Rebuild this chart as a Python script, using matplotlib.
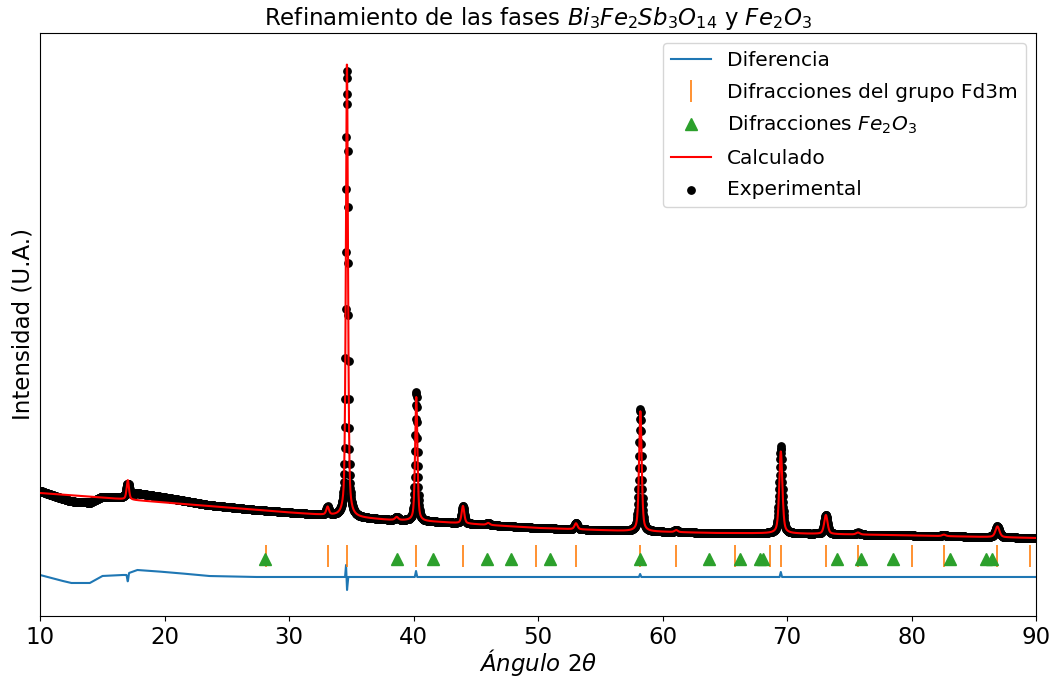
import numpy as np
import matplotlib.pyplot as plt

# fondo del patron calculado (2theta, intensidad)
fondo_x = [10, 17, 30, 38, 42, 46, 50, 57, 64, 70, 78, 86, 90]
fondo_y = [840, 775, 645, 570, 550, 520, 490, 460, 440, 435, 420, 400, 390]

# picos del calculado: posicion, altura sobre el fondo, anchura (FWHM)
picos_pos = [17.05, 33.1, 34.65, 38.65, 40.22, 43.97, 46.0, 53.05, 58.22, 61.1,
             69.5, 73.12, 75.7, 82.6, 86.9]
picos_alt = [195, 80, 4560, 30, 1240, 175, 20, 60, 1200, 20,
             820, 190, 20, 15, 108]
picos_fwhm = [0.22, 0.25, 0.2, 0.3, 0.22, 0.25, 0.3, 0.28, 0.25, 0.3,
              0.3, 0.32, 0.35, 0.35, 0.38]

# diferencia experimental - calculado
dif_x = [10, 11.5, 12.5, 14, 15, 16.5, 16.95, 17.05, 17.15, 17.8, 19, 21, 23.5, 27,
         34.5, 34.58, 34.66, 34.76, 40.1, 40.2, 40.3, 58.1, 58.2, 58.3,
         69.4, 69.5, 69.6, 90]
dif_y = [20, -30, -60, -60, 10, 20, 20, -50, 40, 70, 60, 40, 10, 0,
         0, 120, -130, 0, 0, 60, 0, 0, 30, 0,
         0, 50, 0, 0]

# posiciones de las reflexiones
fd3m = [28.15, 33.1, 34.64, 40.2, 44.0, 49.8, 53.05, 58.2, 61.1, 65.85, 68.6,
        69.5, 73.1, 75.7, 80.05, 82.6, 86.9, 89.5]
fe2o3 = [28.1, 38.7, 41.6, 45.9, 47.8, 50.95, 58.15, 63.7, 66.25, 67.8, 68.1,
         74.0, 75.95, 78.5, 83.05, 86.0, 86.5]

paso = 0.02
x = np.arange(10, 90 + paso / 2, paso)

# perfil pseudo-Voigt
calc = np.interp(x, fondo_x, fondo_y)
for p, h, w in zip(picos_pos, picos_alt, picos_fwhm):
    g = np.exp(-4 * np.log(2) * ((x - p) / w) ** 2)
    l = 1 / (1 + 4 * ((x - p) / w) ** 2)
    calc = calc + h * (0.5 * g + 0.5 * l)

dif = np.interp(x, dif_x, dif_y)
exper = calc + dif

fig = plt.figure(figsize=(10.56, 6.82), dpi=100)
ax = fig.add_axes([0.0379, 0.0968, 0.9432, 0.8548])

l_dif, = ax.plot(x, dif, color='tab:blue', lw=1.5, zorder=2)
l_fd, = ax.plot(fd3m, [205] * len(fd3m), '|', color='tab:orange', ms=16.5,
                mew=1.2, zorder=2)
l_fe, = ax.plot(fe2o3, [180] * len(fe2o3), '^', color='tab:green', ms=9,
                zorder=3)
sc = ax.scatter(x, exper, s=28, c='k', zorder=3)
l_calc, = ax.plot(x, calc, color='red', lw=1.5, zorder=4)

ax.set_xlim(10, 90)
ax.set_ylim(-390, 5440)
ax.set_yticks([])
ax.set_xticks(range(10, 91, 10))
ax.tick_params(axis='x', labelsize=16.5)

ax.set_title(r'Refinamiento de las fases $Bi_3Fe_2Sb_3O_{14}$ y $Fe_2O_3$',
             fontsize=16.5)
ax.set_xlabel(r'$Ángulo\ 2\theta$', fontsize=16.5, labelpad=-1)
ax.set_ylabel('Intensidad (U.A.)', fontsize=16.5)

ax.legend([l_dif, l_fd, l_fe, l_calc, sc],
          ['Diferencia', 'Difracciones del grupo Fd3m',
           r'Difracciones $Fe_2O_3$', 'Calculado', 'Experimental'],
          loc='upper right', fontsize=14.5, labelspacing=0.62)

plt.savefig('out.png')
